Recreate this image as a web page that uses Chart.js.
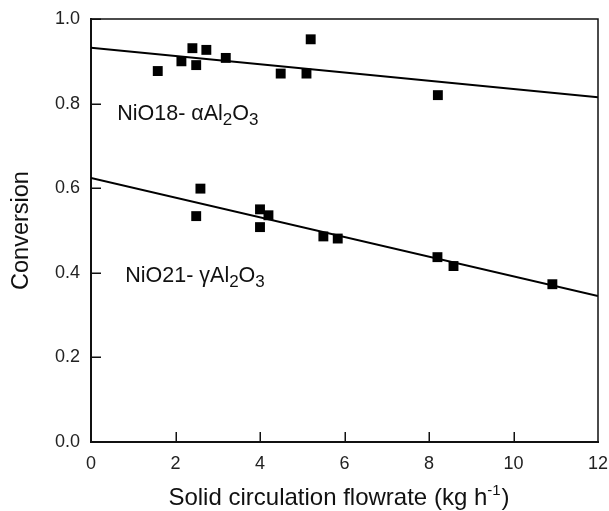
<!DOCTYPE html>
<html>
<head>
<meta charset="utf-8">
<script src="https://cdn.jsdelivr.net/npm/chart.js@4"></script>
<style>
html,body{margin:0;padding:0;background:#fff;}
canvas{display:block;}
</style>
</head>
<body>
<canvas id="c" width="609" height="511"></canvas>
<script>
// Data
const alphaX = [1.58, 2.14, 2.40, 2.49, 2.73, 3.19, 4.49, 5.10, 5.20, 8.21];
const alphaY = [0.877, 0.900, 0.931, 0.891, 0.927, 0.908, 0.871, 0.871, 0.952, 0.820];
const gammaX = [2.49, 2.59, 4.00, 4.00, 4.20, 5.50, 5.84, 8.20, 8.58, 10.92];
const gammaY = [0.534, 0.599, 0.550, 0.508, 0.536, 0.486, 0.481, 0.437, 0.416, 0.373];
const fitX = [0, 12];
const alphaFitY = [0.932, 0.815];
const gammaFitY = [0.624, 0.345];
const xTicks = [0, 2, 4, 6, 8, 10, 12];
const yTicks = [0.0, 0.2, 0.4, 0.6, 0.8, 1.0];

const FONT = "'Liberation Sans', Arial, sans-serif";
const pts = (xs, ys) => xs.map((x, i) => ({x: x, y: ys[i]}));

// Labels with subscripts: [text, isSub]
const annotations = [
  {x: 0.62, y: 0.761, parts: [["NiO18- \u03b1Al", false], ["2", true], ["O", false], ["3", true]]},
  {x: 0.81, y: 0.378, parts: [["NiO21- \u03b3Al", false], ["2", true], ["O", false], ["3", true]]}
];

const extras = {
  id: 'extras',
  afterDraw(chart) {
    const ctx = chart.ctx;
    const a = chart.chartArea;
    const sx = chart.scales.x, sy = chart.scales.y;
    ctx.save();
    // top and right frame
    ctx.strokeStyle = '#111';
    ctx.lineWidth = 1.5;
    ctx.beginPath();
    ctx.moveTo(a.left, a.top);
    ctx.lineTo(a.right, a.top);
    ctx.lineTo(a.right, a.bottom);
    ctx.stroke();
    // inward tick marks
    ctx.lineWidth = 1.5;
    ctx.beginPath();
    sx.ticks.forEach(t => {
      if (t.value === 0 || t.value === 12) return;
      const p = Math.round(sx.getPixelForValue(t.value)) + 0.25;
      ctx.moveTo(p, a.bottom);
      ctx.lineTo(p, a.bottom - 10);
    });
    sy.ticks.forEach(t => {
      if (t.value === 0) return;
      const p = Math.round(sy.getPixelForValue(t.value)) + 0.25;
      ctx.moveTo(a.left, p);
      ctx.lineTo(a.left + 10, p);
    });
    ctx.stroke();
    // annotations
    ctx.fillStyle = '#111';
    ctx.textBaseline = 'alphabetic';
    ctx.textAlign = 'left';
    annotations.forEach(an => {
      let px = sx.getPixelForValue(an.x);
      const py = sy.getPixelForValue(an.y);
      an.parts.forEach(([t, sub]) => {
        ctx.font = (sub ? '17px ' : '21.5px ') + FONT;
        ctx.fillText(t, px, sub ? py + 5 : py);
        px += ctx.measureText(t).width;
      });
    });
    // x axis title with superscript
    const parts = [["Solid circulation flowrate (kg h", 0], ["-1", 1], [")", 0]];
    let total = 0;
    parts.forEach(([t, s]) => { ctx.font = (s ? '15px ' : '24px ') + FONT; total += ctx.measureText(t).width; });
    let x0 = (a.left + a.right) / 2 - total / 2 - 6;
    const by = 505;
    parts.forEach(([t, s]) => {
      ctx.font = (s ? '15px ' : '24px ') + FONT;
      ctx.fillText(t, x0, s ? by - 10 : by);
      x0 += ctx.measureText(t).width + (s ? 1 : 0);
    });
    // y axis title
    ctx.font = '23.5px ' + FONT;
    ctx.textAlign = 'center';
    ctx.textBaseline = 'middle';
    ctx.translate(22, (a.top + a.bottom) / 2);
    ctx.rotate(-Math.PI / 2);
    ctx.fillText('Conversion', 0, 0);
    ctx.restore();
  }
};

new Chart(document.getElementById('c'), {
  type: 'scatter',
  data: {
    datasets: [
      {data: pts(alphaX, alphaY), pointStyle: 'rect', pointRadius: 7, pointHoverRadius: 7,
       backgroundColor: '#000', borderWidth: 0, showLine: false},
      {data: pts(gammaX, gammaY), pointStyle: 'rect', pointRadius: 7, pointHoverRadius: 7,
       backgroundColor: '#000', borderWidth: 0, showLine: false},
      {data: pts(fitX, alphaFitY), showLine: true, pointRadius: 0, borderColor: '#000', borderWidth: 2, fill: false},
      {data: pts(fitX, gammaFitY), showLine: true, pointRadius: 0, borderColor: '#000', borderWidth: 2, fill: false}
    ]
  },
  options: {
    responsive: false,
    animation: false,
    events: [],
    layout: {padding: 0},
    plugins: {legend: {display: false}, tooltip: {enabled: false}},
    scales: {
      x: {
        type: 'linear', min: 0, max: 12,
        afterBuildTicks: s => { s.ticks = xTicks.map(v => ({value: v})); },
        ticks: {font: {family: FONT, size: 18}, color: '#222', padding: 11, maxRotation: 0},
        grid: {display: true, drawOnChartArea: false, drawTicks: false},
        border: {color: '#111', width: 2},
        afterFit: s => { s.height = 69; s.paddingLeft = 0; s.paddingRight = 11; s.paddingTop = 0; s.paddingBottom = 0; }
      },
      y: {
        type: 'linear', min: 0, max: 1,
        afterBuildTicks: s => { s.ticks = yTicks.map(v => ({value: v})); },
        ticks: {font: {family: FONT, size: 18}, color: '#222', padding: 11,
                callback: v => Number(v).toFixed(1)},
        grid: {display: true, drawOnChartArea: false, drawTicks: false},
        border: {color: '#111', width: 2},
        afterFit: s => { s.width = 91; s.paddingTop = 19; s.paddingBottom = 0; s.paddingLeft = 0; s.paddingRight = 0; }
      }
    }
  },
  plugins: [extras]
});
</script>
</body>
</html>
